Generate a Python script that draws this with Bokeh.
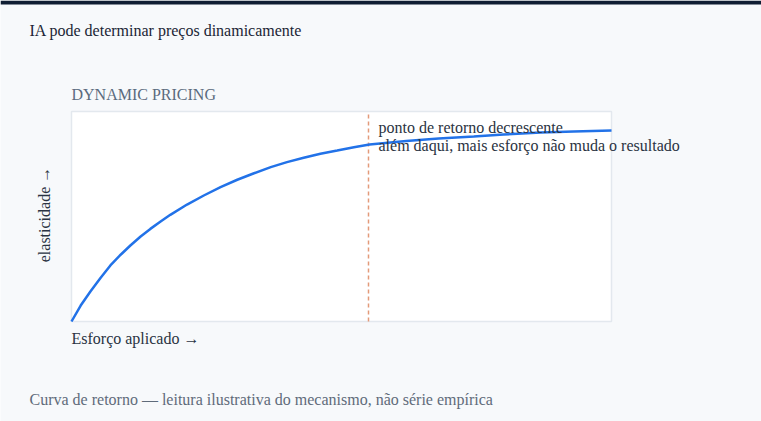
import math
from bokeh.plotting import figure
from bokeh.models import Range1d, Label, BoxAnnotation
from bokeh.embed import file_html
from bokeh.resources import INLINE

# data (effort 0..100, elasticity 0..100)
esforco = [0, 1.7, 3.5, 5.4, 7.2, 9.1, 10.9, 12.8, 14.6, 16.5, 18.3, 21.4, 24.5, 27.6, 30.7,
           33.8, 36.9, 39.9, 43.0, 46.1, 49.2, 52.3, 55.2, 62, 68, 74.5, 80, 86.9, 93, 100]
elasticidade = [0, 7.6, 14.3, 20.8, 26.7, 31.8, 36.2, 40.5, 44.1, 47.6, 50.8, 55.7, 60.0, 64.0, 67.5,
                70.6, 73.5, 75.9, 78.0, 79.9, 81.4, 83.0, 84.3, 86.0, 87.2, 88.1, 89.0, 90.0, 90.5, 91.0]
ponto_retorno = 55
dominio_x = [0, 100]
dominio_y = [0, 100]

titulo = "IA pode determinar preços dinamicamente"
subtitulo = "DYNAMIC PRICING"
nota1 = "ponto de retorno decrescente"
nota2 = "além daqui, mais esforço não muda o resultado"
rotulo_x = "Esforço aplicado →"
rotulo_y = "elasticidade →"
rodape = "Curva de retorno — leitura ilustrativa do mecanismo, não série empírica"

FONT = "Liberation Serif"
W, H = 761, 421
# plot box placement in pixels (left, top, width, height)
BL, BT, BW, BH = 71, 111, 540, 210

# ranges chosen so that the data domain maps onto the plot box
sx = (dominio_x[1] - dominio_x[0]) / BW
sy = (dominio_y[1] - dominio_y[0]) / BH
x_range = Range1d(dominio_x[0] - BL * sx, dominio_x[1] + (W - BL - BW) * sx)
y_range = Range1d(dominio_y[0] - (H - BT - BH) * sy, dominio_y[1] + BT * sy)

p = figure(width=W, height=H, output_backend="svg", toolbar_location=None,
           x_range=x_range, y_range=y_range, min_border=0)
p.xaxis.visible = False
p.yaxis.visible = False
p.grid.visible = False
p.outline_line_color = None
p.background_fill_color = "#f7f9fb"
p.border_fill_color = "#f7f9fb"

# plot box
p.quad(left=[dominio_x[0]], right=[dominio_x[1]], bottom=[dominio_y[0]], top=[dominio_y[1]],
       fill_color="white", line_color="#e3e8ee", line_width=1.5)
# diminishing-returns marker
p.segment(x0=[ponto_retorno], x1=[ponto_retorno], y0=[dominio_y[0]], y1=[dominio_y[1]],
          line_color="#e39a7a", line_width=1.5, line_dash="4 3")
# curve
p.line(esforco, elasticidade, line_color="#2272e8", line_width=2.5)


def lab(x, y, text, size, color, xu="screen", yu="screen", align="left", angle=0.0, x_offset=0):
    p.add_layout(Label(x=x, y=y, x_units=xu, y_units=yu, text=text,
                       text_font=FONT, text_font_size=f"{size}px", text_color=color,
                       text_align=align, text_baseline="middle", angle=angle, x_offset=x_offset))


# screen units: from bottom-left of the canvas
lab(29, H - 30, titulo, 16, "#1b2535")
lab(BL, H - 94, subtitulo, 16, "#5b6b7e")
lab(ponto_retorno, H - 127, nota1, 16, "#2a3342", xu="data", x_offset=10)
lab(ponto_retorno, H - 145, nota2, 16, "#2a3342", xu="data", x_offset=10)
lab(BL, H - 338, rotulo_x, 16, "#2a3342")
lab(44, H - 214, rotulo_y, 16, "#2a3342", align="center", angle=math.pi / 2)
lab(29, H - 399, rodape, 16, "#5f6b7a")

p.add_layout(BoxAnnotation(left=0, right=W, bottom=H - 4, top=H,
                           left_units="screen", right_units="screen",
                           bottom_units="screen", top_units="screen",
                           fill_color="#0f1d33", fill_alpha=1, line_color=None))

open("out.html", "w").write(file_html(p, INLINE))
